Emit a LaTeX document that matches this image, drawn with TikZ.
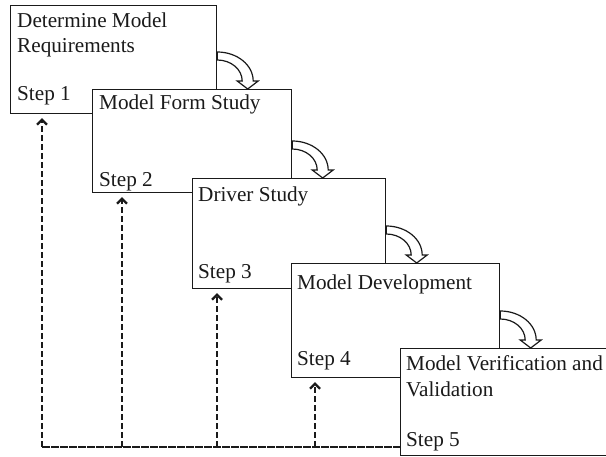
\documentclass[tikz,border=0pt]{standalone}
\usepackage{fontspec}
\setmainfont{Liberation Serif}
\usetikzlibrary{arrows.meta}
\definecolor{ink}{HTML}{1A1A1A}
\begin{document}
\begin{tikzpicture}[x=1pt,y=1pt,
  box/.style={draw=ink,line width=1.2pt,fill=white,rectangle,inner sep=0pt,anchor=north west},
  lbl/.style={anchor=base west,inner sep=0pt,text=ink,font=\fontsize{21.2}{25}\selectfont},
  fb/.style={draw=ink,line width=2.7pt,dash pattern=on 6pt off 3pt},
  fbarrow/.style={fb,-{Straight Barb[length=5pt,width=10pt,line width=2.2pt]}},
  bend/.pic={
    \draw[draw=ink,line width=1.2pt,fill=white,line join=miter]
      (0,37) arc[start angle=90,end angle=0,x radius=36,y radius=29]
      -- (41,8) -- (30.5,0) -- (20,8) -- (25,8)
      arc[start angle=0,end angle=90,x radius=25,y radius=21] -- cycle;
  }]
\useasboundingbox (0,0) rectangle (606,457);
% boxes
\node[box,minimum width=206pt,minimum height=108pt] (b1) at (10,452) {};
\node[box,minimum width=199pt,minimum height=103pt] (b2) at (92,368) {};
\node[box,minimum width=193pt,minimum height=110pt] (b3) at (192,279) {};
\node[box,minimum width=208pt,minimum height=114pt] (b4) at (291,194) {};
\node[box,minimum width=207pt,minimum height=107pt] (b5) at (400,109) {};
% labels
\node[lbl] (t1a) at (17,429) {Determine Model};
\node[lbl] (t1b) at (17,404) {Requirements};
\node[lbl] (s1) at (17,356) {Step 1};
\node[lbl] (t2a) at (99,347) {Model Form Study};
\node[lbl] (s2) at (99,270) {Step 2};
\node[lbl] (t3a) at (198,255) {Driver Study};
\node[lbl] (s3) at (198,178) {Step 3};
\node[lbl] (t4a) at (297,167) {Model Development};
\node[lbl] (s4) at (297,91) {Step 4};
\node[lbl] (t5a) at (406,86) {Model Verification and};
\node[lbl] (t5b) at (406,60) {Validation};
\node[lbl] (s5) at (406,10) {Step 5};
% bent arrows between steps
\pic at (b1.east |- b2.north) {bend};
\pic at (b2.east |- b3.north) {bend};
\pic at (b3.east |- b4.north) {bend};
\pic at (b4.east |- b5.north) {bend};
% feedback lines
\coordinate (c1) at (42,10);
\coordinate (c2) at (122,10);
\coordinate (c3) at (217,10);
\coordinate (c4) at (315,10);
\draw[fb,line cap=rect] (b5.west |- c1) -- (c1);
\draw[fbarrow] (c1) -- ([yshift=-4pt]c1 |- b1.south);
\draw[fbarrow] (c2) -- ([yshift=-4pt]c2 |- b2.south);
\draw[fbarrow] (c3) -- ([yshift=-4pt]c3 |- b3.south);
\draw[fbarrow] (c4) -- ([yshift=-4pt]c4 |- b4.south);
\end{tikzpicture}
\end{document}
